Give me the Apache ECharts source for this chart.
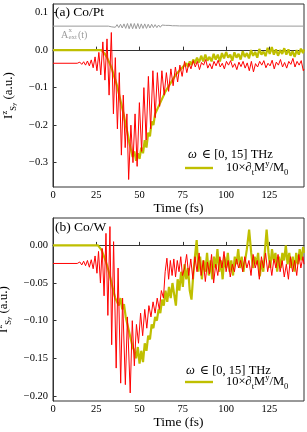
<!DOCTYPE html>
<html><head><meta charset="utf-8">
<script src="https://cdn.jsdelivr.net/npm/echarts@6/dist/echarts.min.js"></script>
<style>html,body{margin:0;padding:0;background:#fff}#c{width:307px;height:432px}</style>
</head><body><div id="c"></div>
<script>
// ---------- data ----------
const xTicks = [0, 25, 50, 75, 100, 125];
const yTicksA = [-0.3, -0.2, -0.1, 0, 0.1];
const yTicksB = [-0.2, -0.15, -0.1, -0.05, 0];

// panel (a) Co/Pt : [time fs, value]
const aextA = [[0,0.064],[32,0.064],[33,0.065],[34,0.062],[35,0.067],[36,0.061],[37,0.068],[38,0.060],[39,0.069],[40,0.059],[41,0.070],[42,0.058],[43,0.071],[44,0.057],[45,0.071],[46,0.057],[47,0.071],[48,0.057],[49,0.071],[50,0.057],[51,0.070],[52,0.058],[53,0.070],[54,0.058],[55,0.069],[56,0.059],[57,0.069],[58,0.060],[59,0.068],[60,0.060],[61,0.067],[62,0.061],[63,0.067],[64,0.062],[65,0.066],[66,0.062],[67,0.066],[68,0.063],[69,0.065],[70,0.063],[71,0.065],[72,0.0635],[73,0.0645],[74,0.064],[145,0.064]];

const redA = [[0,-0.035],[14,-0.035],[15.5,-0.032],[16.6,-0.038],[17.7,-0.031],[18.8,-0.040],[19.9,-0.029],[21,-0.042],[22.1,-0.026],[23.2,-0.047],[24.3,-0.018],[25.4,-0.055],[26.5,-0.006],[27.6,-0.066],[28.8,0.022],[30,-0.08],[31.2,0.03],[32.4,-0.12],[33.7,0.047],[34.9,-0.17],[36.0,-0.02],[37.2,-0.21],[38.3,-0.06],[39.5,-0.28],[40.6,-0.12],[41.7,-0.26],[42.7,-0.17],[43.7,-0.345],[45,-0.2],[46.2,-0.30],[47.4,-0.17],[48.6,-0.31],[49.9,-0.14],[51.2,-0.27],[52.5,-0.1],[53.8,-0.24],[55.1,-0.07],[56.4,-0.21],[57.7,-0.055],[59,-0.18],[60.3,-0.06],[61.6,-0.15],[62.9,-0.055],[64.2,-0.12],[65.5,-0.06],[66.8,-0.11],[68.1,-0.05],[69.4,-0.095],[70.7,-0.045],[72,-0.085],[73.3,-0.04],[74.6,-0.07],[76,-0.03],[77.3,-0.06],[78.5,-0.035],[79.7,-0.05],[81,-0.028],[82.2,-0.045],[83.4,-0.03],[84.6,-0.052],[85.8,-0.033],[87,-0.04],[88.2,-0.025],[89.4,-0.048],[90.6,-0.036],[91.8,-0.05],[93,-0.03],[94.2,-0.042],[95.4,-0.027],[96.6,-0.045],[97.8,-0.035],[99,-0.05],[100.2,-0.03],[101.4,-0.04],[102.6,-0.028],[103.8,-0.046],[105,-0.036],[106.2,-0.052],[107.4,-0.032],[108.6,-0.044],[109.8,-0.03],[111,-0.048],[112.2,-0.034],[113.4,-0.055],[114.6,-0.03],[115.8,-0.058],[117,-0.036],[118.2,-0.045],[119.4,-0.03],[120.6,-0.04],[121.8,-0.028],[123,-0.047],[124.2,-0.035],[125.4,-0.042],[126.6,-0.027],[127.8,-0.05],[129,-0.032],[130.2,-0.04],[131.4,-0.025],[132.6,-0.045],[133.8,-0.033],[135,-0.048],[136.2,-0.03],[137.4,-0.038],[138.6,-0.022],[139.8,-0.045],[141,-0.03],[142.2,-0.04],[143.4,-0.028],[144.6,-0.055],[145,-0.05]];

const yelA = [[0,0],[28,0],[29,-0.004],[30,-0.01],[31,-0.018],[32,-0.028],[33,-0.038],[34,-0.05],[35,-0.065],[36,-0.08],[37,-0.095],[38,-0.115],[39,-0.135],[40,-0.155],[41,-0.175],[42,-0.2],[43,-0.22],[44,-0.245],[45,-0.265],[46,-0.285],[47,-0.27],[48,-0.295],[49,-0.275],[50,-0.29],[51,-0.26],[52,-0.275],[53,-0.24],[54,-0.26],[55,-0.22],[56,-0.23],[57,-0.19],[58,-0.2],[59,-0.17],[60,-0.175],[61,-0.15],[62,-0.155],[63,-0.13],[64,-0.135],[65,-0.11],[66,-0.115],[67,-0.095],[68,-0.1],[69,-0.08],[70,-0.085],[71,-0.065],[72,-0.07],[73,-0.055],[74,-0.06],[75,-0.045],[76,-0.05],[77,-0.035],[78,-0.045],[79,-0.03],[80,-0.04],[81,-0.025],[82,-0.035],[83.2,-0.02],[84.4,-0.033],[85.6,-0.015],[86.8,-0.03],[88,-0.012],[89.2,-0.028],[90.4,-0.018],[91.6,-0.03],[92.8,-0.01],[94,-0.025],[95.2,-0.012],[96.4,-0.03],[97.6,-0.008],[98.8,-0.022],[100,-0.005],[101.2,-0.02],[102.4,-0.012],[103.6,-0.028],[104.8,-0.006],[106,-0.02],[107.2,-0.01],[108.4,-0.025],[109.6,-0.003],[110.8,-0.018],[112,-0.008],[113.2,-0.022],[114.4,0.0],[115.6,-0.015],[116.8,-0.005],[118,-0.02],[119.2,0.003],[120.4,-0.012],[121.6,-0.004],[122.8,-0.016],[124,0.006],[125.2,-0.01],[126.4,0.008],[127.6,-0.012],[128.8,0.002],[130,-0.015],[131.2,0.0],[132.4,-0.01],[133.6,0.005],[134.8,-0.012],[136,0.002],[137.2,-0.015],[138.4,-0.003],[139.6,-0.018],[140.8,0.0],[142,-0.012],[143.2,0.004],[144.4,-0.008],[145,0.002]];

// panel (b) Co/W
const redB = [[0,-0.024],[14,-0.024],[15.5,-0.022],[16.6,-0.026],[17.7,-0.021],[18.8,-0.027],[19.9,-0.02],[21,-0.029],[22.1,-0.019],[23.2,-0.031],[24.3,-0.014],[25.4,-0.037],[26.3,-0.008],[27.4,-0.05],[28.4,-0.004],[29.5,-0.067],[30.6,0.016],[31.7,-0.093],[32.9,0.025],[33.9,-0.132],[35,0.005],[36.5,-0.163],[37.6,-0.03],[39.1,-0.183],[40.2,-0.07],[41.8,-0.185],[43,-0.095],[44.6,-0.196],[45.8,-0.1],[47.0,-0.16],[48.2,-0.105],[49.4,-0.13],[50.6,-0.09],[51.8,-0.12],[53,-0.085],[54.2,-0.11],[55.4,-0.08],[56.6,-0.095],[57.8,-0.075],[59,-0.09],[60.2,-0.07],[61.4,-0.085],[62.6,-0.06],[63.8,-0.07],[64.8,-0.035],[65.8,-0.017],[66.8,-0.045],[67.8,-0.02],[68.8,-0.04],[69.8,-0.018],[70.8,-0.042],[71.8,-0.02],[72.8,-0.035],[73.8,-0.015],[74.8,-0.04],[76,-0.03],[77.2,-0.012],[78.4,-0.04],[79.6,-0.018],[80.8,-0.045],[82,-0.015],[83.2,-0.035],[84.4,-0.01],[85.6,-0.04],[86.8,-0.02],[88,-0.048],[89.2,-0.022],[90.4,-0.038],[91.6,-0.012],[92.8,-0.05],[94,-0.025],[95.2,-0.04],[96.4,-0.015],[97.6,-0.03],[98.8,-0.008],[100,-0.035],[101.2,-0.02],[102.4,-0.042],[103.6,-0.025],[104.8,-0.035],[106,-0.018],[107.2,-0.03],[108.4,-0.02],[109.6,-0.035],[110.8,-0.015],[112,-0.03],[113.2,-0.02],[114.4,-0.04],[115.6,-0.012],[116.8,-0.03],[118,-0.02],[119.2,-0.045],[120.4,-0.015],[121.6,-0.03],[122.8,-0.01],[124,-0.035],[125.2,-0.02],[126.4,-0.04],[127.6,-0.018],[128.8,-0.03],[130,-0.012],[131.2,-0.035],[132.4,-0.02],[133.6,-0.042],[134.8,-0.025],[136,-0.045],[137.2,-0.015],[138.4,-0.035],[139.6,-0.02],[140.8,-0.04],[142,-0.012],[143.2,-0.03],[144.4,-0.015],[145,-0.025]];

const yelB = [[0,0],[26,0],[27,-0.002],[28,-0.006],[29,-0.012],[30,-0.018],[31,-0.025],[32,-0.033],[33,-0.042],[34,-0.052],[35,-0.062],[36,-0.07],[37,-0.068],[38,-0.08],[39,-0.07],[40,-0.085],[41,-0.078],[42,-0.095],[43,-0.105],[44,-0.115],[45,-0.125],[46,-0.135],[47,-0.14],[48,-0.15],[49,-0.135],[50,-0.157],[51,-0.14],[52,-0.155],[53,-0.13],[54,-0.14],[55,-0.12],[56,-0.125],[57,-0.105],[58,-0.11],[59,-0.095],[60,-0.1],[61,-0.085],[62,-0.09],[63,-0.072],[64,-0.08],[65,-0.06],[66,-0.075],[67,-0.055],[68,-0.07],[69,-0.05],[70,-0.065],[71,-0.08],[72,-0.045],[73,-0.06],[74,-0.035],[75,-0.055],[76,-0.025],[77,-0.045],[78,-0.03],[79,-0.06],[80,-0.072],[81,-0.04],[82,-0.015],[83,0.007],[84,-0.035],[85,-0.015],[86,-0.045],[87,-0.02],[88,-0.035],[89,-0.01],[90,-0.04],[91,-0.02],[92,-0.045],[93,-0.015],[94,-0.03],[95,-0.005],[96,-0.035],[97,-0.02],[98,-0.045],[99,-0.015],[100,-0.03],[101,-0.01],[102,-0.035],[103,-0.02],[104,-0.04],[105,-0.015],[106,-0.025],[107,-0.005],[108,-0.03],[109,-0.015],[110,-0.035],[111,-0.02],[112,-0.005],[113.3,0.021],[114.5,-0.01],[115.5,-0.03],[116.5,-0.015],[117.5,-0.025],[118.5,-0.01],[119.5,-0.041],[120.5,-0.02],[121.5,-0.035],[122.5,-0.005],[123.4,0.021],[124.5,-0.01],[125.5,-0.03],[126.5,-0.005],[127.5,-0.02],[128.5,-0.01],[129.5,-0.035],[130.5,-0.015],[131.5,-0.03],[132.5,-0.01],[133.5,-0.02],[134.5,0.0],[135.5,-0.025],[136.5,-0.01],[137.5,-0.03],[138.5,-0.015],[139.5,-0.035],[140.5,-0.01],[141.5,-0.025],[142.5,-0.005],[143.5,-0.02],[144.5,-0.002],[145,-0.01]];

// ---------- chart ----------
const FF = '"Liberation Serif","DejaVu Serif",serif';
const RED = '#ff0000', YEL = '#bfbf00', GRAY = '#9a9a9a', AX = '#333';
const chart = echarts.init(document.getElementById('c'), null, {renderer: 'canvas'});

function fmt(d) { return v => (Math.abs(v) < 1e-9 ? (0).toFixed(d) : v.toFixed(d)).replace('-', '\u2212'); }
const base = {fontFamily: FF, fontWeight: 'normal', color: '#000'};
const subRich = {
  n: Object.assign({}, base, {fontSize: 12.5, lineHeight: 18}),
  it: Object.assign({}, base, {fontSize: 12.5, fontStyle: 'italic', lineHeight: 18}),
  sup: Object.assign({}, base, {fontSize: 8.5, verticalAlign: 'top'}),
  sub: Object.assign({}, base, {fontSize: 8.5, verticalAlign: 'bottom'}),
  g: {width: 8}
};
const legendText = '{g|}{n|10×∂}{sub|t}{n|M}{sup|y}{n|/M}{sub|0}';
const yName = '{n|I}{sup|z}{sub|S}{ss|y}{n| (a.u.)}';
const yNameRich = {
  n: Object.assign({}, base, {fontSize: 13, lineHeight: 18}),
  sup: Object.assign({}, base, {fontSize: 8.5, verticalAlign: 'top'}),
  sub: Object.assign({}, base, {fontSize: 8.5, verticalAlign: 'bottom'}),
  ss: Object.assign({}, base, {fontSize: 6.5, verticalAlign: 'bottom'})
};
function grayText(text, left, top, size) {
  return {text: text, left: left, top: top, padding: 0,
    textStyle: {fontFamily: FF, fontWeight: 'normal', fontSize: size, color: GRAY}};
}

function xAxis(gi) {
  return {
    type: 'value', gridIndex: gi, min: 0, max: 145, interval: 25,
    name: 'Time (fs)', nameLocation: 'middle', nameGap: 14,
    nameTextStyle: {fontFamily: FF, fontSize: 13.5, color: '#000'},
    axisLine: {show: true, lineStyle: {color: AX, width: 1}},
    axisTick: {show: true, inside: true, length: 3.5, lineStyle: {color: AX}, customValues: xTicks},
    axisLabel: {show: true, margin: 3, fontFamily: FF, fontSize: 10.5, color: '#000', customValues: xTicks},
    splitLine: {show: false}
  };
}
function yAxis(gi, min, max, ticks, d) {
  return {
    type: 'value', gridIndex: gi, min: min, max: max,
    name: yName, nameLocation: 'middle', nameGap: 34, nameRotate: 90,
    nameTextStyle: {rich: yNameRich},
    axisLine: {show: true, lineStyle: {color: AX, width: 1}},
    axisTick: {show: true, inside: true, length: 3.5, lineStyle: {color: AX}, customValues: ticks},
    axisLabel: {show: true, margin: 5, fontFamily: FF, fontSize: 10.5, color: '#000', customValues: ticks, formatter: fmt(d)},
    splitLine: {show: false}
  };
}
function line(name, xi, data, color, w, z) {
  return {name: name, type: 'line', xAxisIndex: xi, yAxisIndex: xi, data: data, showSymbol: false, symbol: 'none',
    lineStyle: {color: color, width: w}, itemStyle: {color: color}, z: z, animation: false, silent: true};
}
function legend(name, top) {
  return {data: [{name: name, icon: 'rect'}], left: 185, top: top, padding: 0, itemWidth: 28, itemHeight: 2.4,
    itemStyle: {color: YEL}, lineStyle: {color: YEL, width: 2.4},
    formatter: () => legendText, textStyle: {rich: subRich}};
}

chart.setOption({
  animation: false,
  grid: [
    {left: 53, top: 4, width: 251, height: 183, outerBoundsMode: 'none', containLabel: false, show: true, borderColor: AX, borderWidth: 1, backgroundColor: 'transparent'},
    {left: 53, top: 218, width: 251, height: 183, outerBoundsMode: 'none', containLabel: false, show: true, borderColor: AX, borderWidth: 1, backgroundColor: 'transparent'}
  ],
  xAxis: [xAxis(0), xAxis(1)],
  yAxis: [yAxis(0, -0.365, 0.123, yTicksA, 1), yAxis(1, -0.2067, 0.0364, yTicksB, 2)],
  title: [
    {text: '(a) Co/Pt', left: 55, top: 5, padding: 0, textStyle: {fontFamily: FF, fontSize: 13.5, fontWeight: 'normal', color: '#000'}},
    {text: '(b) Co/W', left: 55, top: 220, padding: 0, textStyle: {fontFamily: FF, fontSize: 13.5, fontWeight: 'normal', color: '#000'}},
    {text: '{it|ω} {n|∈ [0, 15] THz}', left: 188, top: 146, padding: 0, textStyle: {fontWeight: 'normal', rich: subRich}},
    {text: '{it|ω} {n|∈ [0, 15] THz}', left: 186, top: 362, padding: 0, textStyle: {fontWeight: 'normal', rich: subRich}},
    grayText('A', 61, 30, 10),
    grayText('x', 68.5, 27, 7),
    grayText('ext', 68.5, 34, 7),
    grayText('(t)', 78, 30, 10)
  ],
  legend: [legend('yelA', 159), legend('yelB', 373)],
  series: [
    line('aext', 0, aextA, GRAY, 1, 2),
    line('yelA', 0, yelA, YEL, 2.2, 3),
    line('redA', 0, redA, RED, 1, 4),
    line('yelB', 1, yelB, YEL, 2.2, 3),
    line('redB', 1, redB, RED, 1, 4)
  ]
});
</script></body></html>
